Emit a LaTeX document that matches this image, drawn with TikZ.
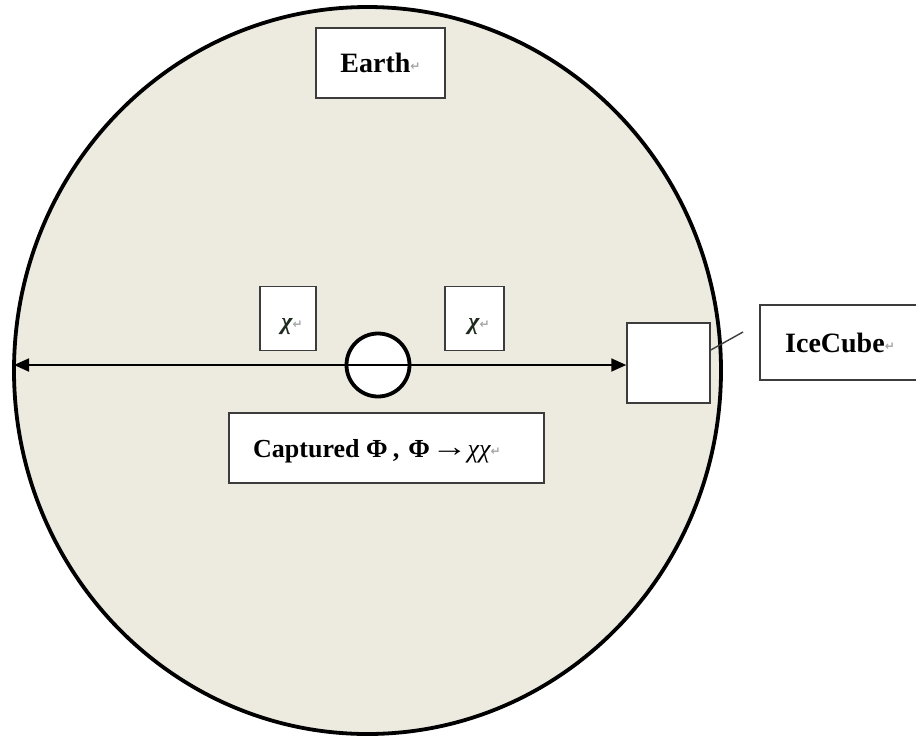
\documentclass[tikz,border=0pt]{standalone}
\usepackage{fontspec}
\setmainfont{Liberation Serif}
\newfontfamily\symfont{DejaVu Sans}
\usetikzlibrary{arrows.meta}
\definecolor{earthfill}{HTML}{EDEAE0}
\definecolor{boxline}{HTML}{3C3C3C}
\definecolor{chicolor}{HTML}{1E2A1E}
\newcommand{\pmark}{{\symfont\fontsize{12}{12}\selectfont\color{gray!70}\raisebox{0.25ex}{↵}}}
\tikzset{
  labelbox/.style={draw=boxline, line width=1.5pt, fill=white, inner sep=0pt,
    font=\fontsize{28}{30}\selectfont\bfseries},
  chibox/.style={draw=boxline, line width=1.5pt, fill=white, inner sep=0pt},
  chitext/.style={font=\fontsize{24}{26}\selectfont\bfseries\itshape, text=chicolor},
  earthline/.style={draw=black, line width=3.8pt, fill=earthfill},
  beam/.style={line width=1.8pt, {Triangle[length=15pt,width=13pt]}-{Triangle[length=15pt,width=13pt]}}
}
\begin{document}
\begin{tikzpicture}[x=1pt,y=-1pt]
  \useasboundingbox (0,0) rectangle (916,740);
  \fill[white] (0,0) rectangle (916,740);

  % the Earth
  \draw[earthline] (367.5,370.5) ellipse [x radius=353.5, y radius=363.5];
  \coordinate (westrim) at (14,365);

  % labels inside the Earth
  \node[labelbox, minimum width=129pt, minimum height=70pt] (earth) at (380.5,63) {Earth\pmark};
  \node[chibox, minimum width=56pt, minimum height=64pt] (chil) at (288,318.5) {};
  \node[chibox, minimum width=59pt, minimum height=64pt] (chir) at (474.5,318.5) {};
  \node[chitext] at (292,327) {χ\pmark};
  \node[chitext] at (479,327) {χ\pmark};

  % detector and capture region
  \node[chibox, minimum width=83pt, minimum height=80pt] (ice) at (668.5,363) {};
  \node[draw=black, line width=3.8pt, fill=white, circle, minimum size=63pt, inner sep=0pt] (core) at (378,365) {};
  \draw[beam] (westrim) -- (ice.west |- westrim);

  \node[labelbox, minimum width=315pt, minimum height=70pt] (capt) at (386.5,448) {};
  \node[font=\fontsize{26}{28}\selectfont\bfseries, anchor=base west, inner sep=0pt] at (253,457)
    {Captured\hspace{0.25em}Φ\hspace{0.2em},\hspace{0.35em}Φ\hspace{0.05em}{\mdseries\raisebox{0.05ex}{\scalebox{1.4}[1.1]{→}}}{\mdseries\itshape χχ}\pmark};

  % IceCube label and its pointer
  \node[labelbox, minimum width=160pt, minimum height=75pt] (icelabel) at (840,342.5) {IceCube\pmark};
  \coordinate (pointer) at (743,332);
  \draw[line width=1.4pt, boxline] (ice.east |- 0,350) -- (pointer);
\end{tikzpicture}
\end{document}
